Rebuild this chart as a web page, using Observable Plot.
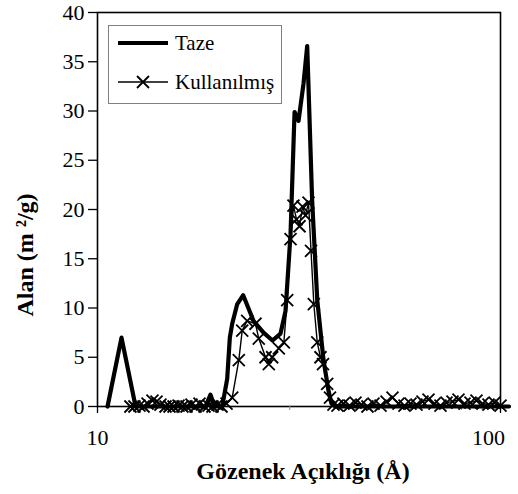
<!DOCTYPE html>
<html><head><meta charset="utf-8">
<script src="https://cdn.jsdelivr.net/npm/d3@7"></script>
<script src="https://cdn.jsdelivr.net/npm/@observablehq/plot@0.6"></script>
<style>html,body{margin:0;padding:0;background:#fff} svg{display:block}</style>
</head><body><div id="chart"></div>
<script>
// ---- data ----
const seriesNames = ["Taze", "Kullanılmış"];
const tazeX = [10.59, 11.47, 12.43, 13.53, 15.18, 17.01, 18.53, 19.07, 19.52, 20.39, 20.98, 21.30, 21.59, 22.22, 22.99, 24.38, 25.82, 27.18, 28.45, 29.28, 30.13, 30.83, 31.54, 32.45, 33.14, 34.09, 35.10, 36.38, 37.43, 38.07, 38.96, 45, 55, 65, 80, 95, 105];
const tazeY = [0, 7.0, 0, 0, 0, 0, 0, 1.2, 0, 0, 2.8, 7.0, 8.4, 10.4, 11.3, 8.7, 7.5, 6.7, 7.4, 9.7, 17.5, 29.9, 29.0, 32.8, 36.6, 20.9, 10.8, 4.7, 1.6, 0.3, 0, 0, 0, 0, 0, 0, 0];
const kulX = [12.07, 12.35, 12.71, 13.01, 13.31, 13.69, 14.01, 14.33, 14.75, 15.09, 15.44, 15.89, 16.25, 16.63, 17.11, 17.51, 17.91, 18.43, 18.86, 19.29, 19.85, 20.31, 20.90,
  21.59, 22.42, 22.86, 23.52, 24.66, 25.13, 26.12, 26.61, 27.13, 28.18, 29.00, 29.56, 30.13, 30.64, 31.18, 31.72, 32.26, 32.82, 33.39, 33.87, 34.42, 35.10, 35.75, 36.27, 37.15, 37.75, 38.51,
  39.40, 40.77, 42.20, 43.67, 45.19, 46.77, 48.40, 50.38, 52.14, 53.95, 55.83, 57.78, 59.79, 61.88, 64.03, 66.27, 68.58, 70.97, 73.45, 76.01, 78.66, 81.40, 84.24, 87.17, 90.22, 93.37, 96.63, 100];
const kulY = [0, 0, 0.1, 0, 0.3, 0.6, 0.5, 0.2, 0, 0, 0, 0.1, 0, 0, 0.2, 0, 0.3, 0, 0.1, 0, 0.2, 0, 0.3,
  0.9, 4.7, 7.7, 8.7, 8.4, 6.9, 5.0, 4.3, 5.0, 5.9, 6.5, 10.8, 17.0, 20.4, 19.0, 18.3, 20.3, 19.4, 20.7, 15.8, 10.4, 6.5, 5.0, 4.3, 2.3, 0.9, 0.2,
  0.1, 0.3, 0.1, 0.4, 0.2, 0, 0.3, 0.1, 0.5, 0.9, 0.3, 0.1, 0.3, 0.2, 0.5, 0.7, 0.3, 0.1, 0.4, 0.5, 0.7, 0.3, 0.4, 0.6, 0.3, 0.2, 0.4, 0.1];
const yTicks = [0, 5, 10, 15, 20, 25, 30, 35, 40];
const xTicks = [10, 100];
const xMinorTicks = [20, 30, 40, 50, 60, 70, 80, 90];
const yLabel = "Alan (m ²/g)";
const xLabel = "Gözenek Açıklığı (Å)";

// ---- build ----
const taze = tazeX.map((x, i) => ({x, y: tazeY[i]}));
const kul = kulX.map((x, i) => ({x, y: kulY[i]}));
const cross = {
  draw(ctx, size) {
    const s = Math.sqrt(size / Math.PI);
    ctx.moveTo(-s, -s); ctx.lineTo(s, s);
    ctx.moveTo(-s, s); ctx.lineTo(s, -s);
  }
};
const font = "'Liberation Serif', 'Times New Roman', serif";

const chart = Plot.plot({
  width: 518, height: 494,
  marginLeft: 97, marginRight: 18, marginTop: 12, marginBottom: 88,
  style: {fontFamily: font, fontSize: "22px", color: "#000", background: "#fff"},
  x: {type: "log", domain: [10, 100]},
  y: {domain: [0, 40]},
  marks: [
    Plot.frame({stroke: "#000", strokeWidth: 1.6}),
    Plot.axisY({ticks: yTicks, tickSize: 9, tickPadding: 4, label: null, fontSize: 22, strokeWidth: 1.3}),
    Plot.axisX({ticks: xTicks, tickSize: 7, tickFormat: () => "", label: null, strokeWidth: 1.3}),
    Plot.axisX({ticks: xTicks.slice(0, 1), tickSize: 0, tickPadding: 23, label: null, tickFormat: d => String(d), fontSize: 22}),
    Plot.axisX({ticks: xTicks.slice(1), tickSize: 0, tickPadding: 23, label: null, tickFormat: d => String(d), fontSize: 22, dx: -12}),
    Plot.axisX({ticks: xMinorTicks, tickSize: 4, tickFormat: () => "", label: null, stroke: "#888"}),
    Plot.line(taze, {x: "x", y: "y", stroke: "#000", strokeWidth: 4.2, strokeLinejoin: "round"}),
    Plot.line(kul, {x: "x", y: "y", stroke: "#000", strokeWidth: 1.4}),
    Plot.dot(kul, {x: "x", y: "y", symbol: cross, r: 6, stroke: "#000", strokeWidth: 1.8, fill: "none"}),
    Plot.text([xLabel], {text: d => d, frameAnchor: "bottom", dx: 4, dy: 72, fontWeight: "bold", fontSize: 24})
  ]
});
document.getElementById("chart").appendChild(chart);

const svg = d3.select(chart);
// ---- y axis title ----
svg.append("text")
  .attr("transform", "translate(25,255) rotate(-90)")
  .attr("text-anchor", "middle").attr("dy", "0.35em")
  .style("font-family", font).style("font-size", "24px").style("font-weight", "bold")
  .text(yLabel);

// ---- legend ----
const lg = svg.append("g");
lg.append("rect").attr("x", 108.5).attr("y", 25.5).attr("width", 173).attr("height", 78)
  .attr("fill", "#fff").attr("stroke", "#808080").attr("stroke-width", 1);
lg.append("line").attr("x1", 118).attr("x2", 168).attr("y1", 43).attr("y2", 43)
  .attr("stroke", "#000").attr("stroke-width", 4.2);
lg.append("line").attr("x1", 118).attr("x2", 168).attr("y1", 82).attr("y2", 82)
  .attr("stroke", "#000").attr("stroke-width", 1.4);
lg.append("path").attr("d", "M137,76L149,88M137,88L149,76")
  .attr("stroke", "#000").attr("stroke-width", 1.8);
[[seriesNames[0], 43], [seriesNames[1], 82]].forEach(([t, y]) => {
  lg.append("text").attr("x", 175).attr("y", y).attr("dy", "0.35em")
    .attr("text-anchor", "start")
    .style("font-family", font).style("font-size", "21px").style("font-weight", "normal")
    .text(t);
});
</script>
</body></html>
